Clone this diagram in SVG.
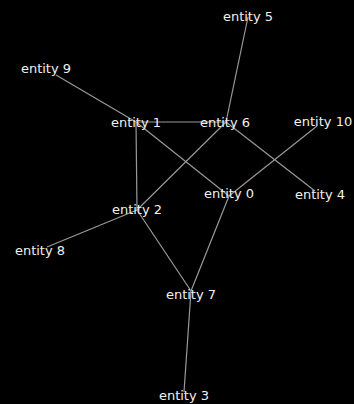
<svg xmlns="http://www.w3.org/2000/svg" width="354" height="404" viewBox="0 0 354 404">
<style>
.bg{fill:#000}
.e{stroke:#999;stroke-width:1.2;fill:none}
.n text{font-family:"DejaVu Sans",sans-serif;font-size:13px;fill:#f0f0f0;text-anchor:middle;dominant-baseline:central}
</style>
<rect class="bg" x="0" y="0" width="354" height="404"/>
<g id="edges">
<line class="e" x1="56" y1="75" x2="136" y2="122"/>
<line class="e" x1="136" y1="122" x2="226" y2="122"/>
<line class="e" x1="136" y1="122" x2="137" y2="210"/>
<line class="e" x1="136" y1="122" x2="229" y2="196"/>
<line class="e" x1="226" y1="122" x2="248" y2="17"/>
<line class="e" x1="226" y1="122" x2="137" y2="210"/>
<line class="e" x1="226" y1="122" x2="315" y2="191"/>
<line class="e" x1="229" y1="196" x2="317" y2="126"/>
<line class="e" x1="229" y1="196" x2="191" y2="291"/>
<line class="e" x1="137" y1="210" x2="47" y2="247"/>
<line class="e" x1="137" y1="210" x2="191" y2="291"/>
<line class="e" x1="191" y1="291" x2="184" y2="392"/>
</g>
<g id="entity0" class="n"><text x="229" y="193">entity 0</text></g>
<g id="entity1" class="n"><text x="136" y="122">entity 1</text></g>
<g id="entity2" class="n"><text x="137" y="209">entity 2</text></g>
<g id="entity3" class="n"><text x="184" y="395">entity 3</text></g>
<g id="entity4" class="n"><text x="320" y="194">entity 4</text></g>
<g id="entity5" class="n"><text x="248" y="16">entity 5</text></g>
<g id="entity6" class="n"><text x="225" y="122">entity 6</text></g>
<g id="entity7" class="n"><text x="191" y="294">entity 7</text></g>
<g id="entity8" class="n"><text x="40" y="250">entity 8</text></g>
<g id="entity9" class="n"><text x="46" y="68">entity 9</text></g>
<g id="entity10" class="n"><text x="323" y="121">entity 10</text></g>
</svg>
